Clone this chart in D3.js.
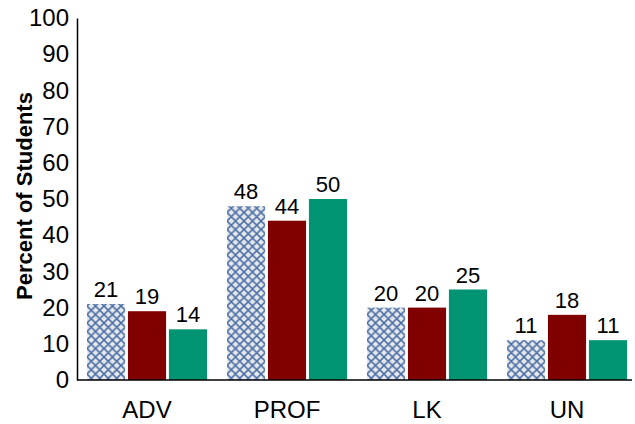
<!DOCTYPE html>
<html>
<head>
<meta charset="UTF-8" />
<script src="https://d3js.org/d3.v7.min.js"></script>
<style>
  body { margin: 0; background: #fff; }
  text { font-family: "Liberation Sans", Arial, sans-serif; fill: #000; }
</style>
</head>
<body>
<script>
const categories = ["ADV", "PROF", "LK", "UN"];
const seriesNames = ["s1", "s2", "s3"];
const s1 = [21, 48, 20, 11];
const s2 = [19, 44, 20, 18];
const s3 = [14, 50, 25, 11];
const yTicks = [0, 10, 20, 30, 40, 50, 60, 70, 80, 90, 100];

const width = 635, height = 424;
const svg = d3.select("body").append("svg")
  .attr("width", width).attr("height", height);

// motivo a griglia per la prima serie
const defs = svg.append("defs");
const pat = defs.append("pattern")
  .attr("id", "hatch")
  .attr("patternUnits", "userSpaceOnUse")
  .attr("width", 8.5).attr("height", 8.5);
pat.append("rect").attr("width", 8.5).attr("height", 8.5).attr("fill", "#e8e8ea");
pat.append("path")
  .attr("d", "M0,0 L8.5,8.5 M8.5,0 L0,8.5 M-1,7.5 L1,9.5 M7.5,-1 L9.5,1 M-1,1 L1,-1 M7.5,9.5 L9.5,7.5")
  .attr("stroke", "#4a6fa8").attr("stroke-width", 1.6);

const x0 = d3.scaleBand().domain(categories).range([77, 637]).paddingInner(0.1428).paddingOuter(0.0714);
const x1 = d3.scaleBand().domain(seriesNames).range([0, x0.bandwidth()]).paddingInner(0.07);
const y = d3.scaleLinear().domain([0, 100]).range([380, 18]);

const fills = ["url(#hatch)", "#800000", "#009472"];
const allSeries = [s1, s2, s3];

const rows = categories.map((c, i) => ({
  cat: c,
  vals: allSeries.map((s, j) => ({ key: seriesNames[j], v: s[i], fill: fills[j] }))
}));

const groups = svg.selectAll("g.grp").data(rows).enter().append("g")
  .attr("class", "grp")
  .attr("transform", d => `translate(${x0(d.cat)},0)`);

groups.selectAll("rect").data(d => d.vals).enter().append("rect")
  .attr("x", d => x1(d.key))
  .attr("y", d => y(d.v))
  .attr("width", x1.bandwidth())
  .attr("height", d => y(0) - y(d.v))
  .attr("fill", d => d.fill);

groups.selectAll("text.val").data(d => d.vals).enter().append("text")
  .attr("class", "val")
  .attr("x", d => x1(d.key) + x1.bandwidth() / 2)
  .attr("y", d => y(d.v) - 7)
  .attr("text-anchor", "middle")
  .style("font-size", "22px")
  .text(d => d.v);

// assi
const yAxis = d3.axisLeft(y).tickValues(yTicks).tickSize(0).tickPadding(8);
const gy = svg.append("g").attr("transform", "translate(77,0)").call(yAxis);
gy.select(".domain").attr("stroke", "#000").attr("stroke-width", 1.5);
gy.selectAll("text").style("font-size", "24px").style("font-family", "Liberation Sans, Arial, sans-serif");

const xAxis = d3.axisBottom(x0).tickSize(0).tickPadding(21);
const gx = svg.append("g").attr("transform", "translate(0,380)").call(xAxis);
gx.select(".domain").attr("d", "M77,0H632").attr("stroke", "#000").attr("stroke-width", 1.5);
gx.selectAll("text").style("font-size", "24px").style("font-family", "Liberation Sans, Arial, sans-serif");

svg.append("text")
  .attr("transform", "translate(32,196) rotate(-90)")
  .attr("text-anchor", "middle")
  .style("font-size", "22px")
  .style("font-weight", "bold")
  .text("Percent of Students");
</script>
</body>
</html>
